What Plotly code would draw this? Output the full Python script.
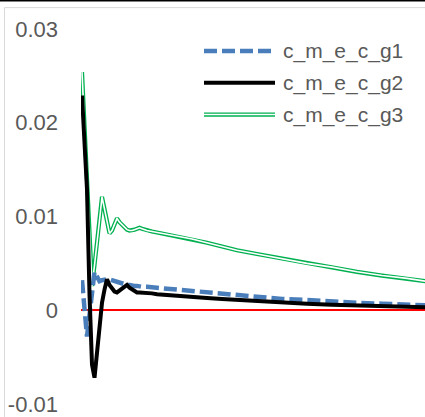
import plotly.graph_objects as go

# sample steps shared by the three series
steps = [0, 1, 2, 3, 4, 5, 6, 7, 8, 9, 10, 11, 12, 13, 14, 15, 16, 17, 18, 19,
         20, 21, 22, 23, 24, 26, 28, 30, 34, 38, 44, 50, 56, 62, 70, 80, 90,
         100, 110, 120, 130, 140]

c_m_e_c_g1 = [0.0032, 0.0002, -0.0028, -0.0005, 0.0019, 0.0041, 0.0036, 0.0031,
              0.0032, 0.0033, 0.0033, 0.0033, 0.0032, 0.0031, 0.0030, 0.0029,
              0.0028, 0.0028, 0.0027, 0.0027, 0.0026, 0.0026, 0.0026, 0.0025,
              0.0025, 0.0025, 0.0024, 0.0024, 0.0023, 0.0022, 0.0020, 0.0019,
              0.0017, 0.0016, 0.0014, 0.0012, 0.0011, 0.0009, 0.0008, 0.0007,
              0.0006, 0.0005]

c_m_e_c_g2 = [0.0229, 0.0179, 0.0129, 0.0017, -0.0058, -0.0072, -0.0042, -0.0012,
              0.0008, 0.0022, 0.0033, 0.0027, 0.0023, 0.0020, 0.0019, 0.0021,
              0.0023, 0.0025, 0.0027, 0.0024, 0.0022, 0.0020, 0.0019, 0.0019,
              0.0019, 0.0018, 0.0018, 0.0017, 0.0016, 0.0015, 0.0014, 0.0013,
              0.0012, 0.0011, 0.00095, 0.0008, 0.0007, 0.0006, 0.0005, 0.00042,
              0.00035, 0.0003]

c_m_e_c_g3 = [0.0254, 0.0197, 0.0140, 0.0083, 0.0026, 0.0048, 0.0070, 0.0096,
              0.0121, 0.0108, 0.0094, 0.0082, 0.0085, 0.0091, 0.0098, 0.0094,
              0.0091, 0.0088, 0.0086, 0.0085, 0.0085, 0.0086, 0.0087, 0.0088,
              0.0087, 0.0085, 0.0084, 0.0083, 0.0081, 0.0079, 0.0076, 0.0072,
              0.0068, 0.0064, 0.0060, 0.0055, 0.0050, 0.0046, 0.0041, 0.0037,
              0.0034, 0.0030]

y_ticks = [-0.01, 0, 0.01, 0.02, 0.03]
y_tick_text = ["-0.01", "0", "0.01", "0.02", "0.03"]

series_names = ["c_m_e_c_g1", "c_m_e_c_g2", "c_m_e_c_g3"]

BLUE = "#4A7EBB"
BLACK = "#000000"
GREEN = "#00B050"
TEXT = "#595959"
FONT = "Liberation Sans"

W, H = 425, 417
ML, MR, MT, MB = 81, 0, 29, 11
PW, PH = W - ML - MR, H - MT - MB


def px_x(px):
    return (px - ML) / PW


def px_y(py):
    return (H - MB - py) / PH


fig = go.Figure()

# green compound line: wide green stroke with a white core
fig.add_trace(go.Scatter(x=steps, y=c_m_e_c_g3, mode="lines", name=series_names[2],
                         line=dict(color=GREEN, width=4.2), showlegend=False,
                         hoverinfo="skip"))
fig.add_trace(go.Scatter(x=steps, y=c_m_e_c_g3, mode="lines", name=series_names[2],
                         line=dict(color="white", width=1.6), showlegend=False))
fig.add_trace(go.Scatter(x=steps, y=c_m_e_c_g1, mode="lines", name=series_names[0],
                         line=dict(color=BLUE, width=4.5, dash="13px,5px"),
                         showlegend=False))
fig.add_trace(go.Scatter(x=steps, y=c_m_e_c_g2, mode="lines", name=series_names[1],
                         line=dict(color=BLACK, width=4), showlegend=False))

shapes = []
# chart frame
shapes.append(dict(type="line", xref="paper", yref="paper",
                   x0=px_x(0), x1=px_x(W + 2), y0=px_y(0.6), y1=px_y(0.6),
                   line=dict(color="#000000", width=1.5)))
shapes.append(dict(type="line", xref="paper", yref="paper",
                   x0=px_x(4.5), x1=px_x(W + 2), y0=px_y(7.5), y1=px_y(7.5),
                   line=dict(color="#D9D9D9", width=1)))
shapes.append(dict(type="line", xref="paper", yref="paper",
                   x0=px_x(4.5), x1=px_x(4.5), y0=px_y(7.5), y1=px_y(H + 2),
                   line=dict(color="#D9D9D9", width=1)))

# legend samples
leg_x0, leg_x1 = px_x(204), px_x(275)
leg_rows = [51, 83, 115]
shapes.append(dict(type="line", xref="paper", yref="paper", x0=leg_x0, x1=leg_x1,
                   y0=px_y(leg_rows[0]), y1=px_y(leg_rows[0]),
                   line=dict(color=BLUE, width=4.5, dash="13px,5px")))
shapes.append(dict(type="line", xref="paper", yref="paper", x0=leg_x0, x1=leg_x1,
                   y0=px_y(leg_rows[1]), y1=px_y(leg_rows[1]),
                   line=dict(color=BLACK, width=4)))
shapes.append(dict(type="line", xref="paper", yref="paper", x0=leg_x0, x1=leg_x1,
                   y0=px_y(leg_rows[2]), y1=px_y(leg_rows[2]),
                   line=dict(color=GREEN, width=4.2)))
shapes.append(dict(type="line", xref="paper", yref="paper", x0=leg_x0, x1=leg_x1,
                   y0=px_y(leg_rows[2]), y1=px_y(leg_rows[2]),
                   line=dict(color="white", width=1.6)))

annotations = []
for name, row in zip(series_names, leg_rows):
    annotations.append(dict(text=name, xref="paper", yref="paper",
                            x=px_x(281), y=px_y(row), xanchor="left",
                            yanchor="middle", showarrow=False,
                            font=dict(family=FONT, size=21, color=TEXT)))

fig.update_layout(
    width=W, height=H,
    margin=dict(l=ML, r=MR, t=MT, b=MB, pad=0),
    paper_bgcolor="white", plot_bgcolor="white",
    showlegend=False,
    shapes=shapes,
    annotations=annotations,
    xaxis=dict(range=[-0.4, 137.2], showgrid=False, zeroline=False,
               showline=False, showticklabels=False, ticks=""),
    yaxis=dict(range=[-0.01, 0.03], tickvals=y_ticks, ticktext=y_tick_text,
               showgrid=False, showline=False, ticks="",
               zeroline=True, zerolinecolor="#FF0000", zerolinewidth=2,
               tickfont=dict(family=FONT, size=22, color=TEXT),
               ticklabelstandoff=22, ticklabeloverflow="allow"),
)

fig.write_html("out.html")
